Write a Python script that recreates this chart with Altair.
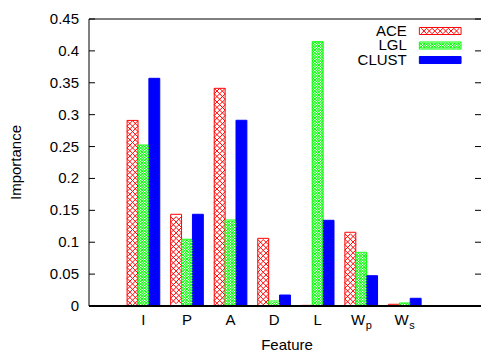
import altair as alt
import pandas as pd

# ---- data ----
feature_main = ["I", "P", "A", "D", "L", "W", "W"]
feature_sub = ["", "", "", "", "", "p", "s"]
series_names = ["ACE", "LGL", "CLUST"]
ace_values = [0.291, 0.1438, 0.3413, 0.1061, 0.001, 0.1156, 0.0027]
lgl_values = [0.2524, 0.1046, 0.1348, 0.0078, 0.4144, 0.0842, 0.0047]
clust_values = [0.357, 0.1438, 0.2912, 0.0172, 0.1344, 0.0475, 0.0121]
y_tick_values = [0, 0.05, 0.1, 0.15, 0.2, 0.25, 0.3, 0.35, 0.4, 0.45]
x_title = "Feature"
y_title = "Importance"

# ---- styling ----
FONT = "Liberation Sans"
fill_colors = ["#ffffff", "#ffffff", "#0000ff"]
line_colors = ["#ff0000", "#00ff00", "#0000ff"]
W, H = 392, 287
X_DOM = [-1.25, 7.75]
Y_DOM = [0, 0.45]
PX_X = W / (X_DOM[1] - X_DOM[0])      # px per x unit
PX_Y = H / (Y_DOM[1] - Y_DOM[0])      # px per y unit
PAT = 5.44                            # hatch period in px for ACE
SX = PAT / PX_X
SY = PAT / PX_Y

rows = []
for i in range(len(feature_main)):
    for k, vals in enumerate([ace_values, lgl_values, clust_values]):
        rows.append({"idx": i, "series": series_names[k], "k": k, "value": vals[i]})
bars_df = pd.DataFrame(rows)
legend_df = pd.DataFrame({"series": series_names, "k": [0, 1, 2]})
labels_df = pd.DataFrame({"idx": list(range(len(feature_main))), "main": feature_main, "sub": feature_sub})
ticks_df = pd.DataFrame({"t": y_tick_values})
titles_df = pd.DataFrame({"x_title": [x_title], "y_title": [y_title]})

xscale = alt.Scale(domain=X_DOM, nice=False, zero=False)
yscale = alt.Scale(domain=Y_DOM, nice=False, zero=False)


def rect_layer(base):
    return base.mark_rect(strokeWidth=1).encode(
        x=alt.X("x1:Q", scale=xscale, axis=None),
        x2="x2:Q",
        y=alt.Y("y2:Q", scale=yscale, axis=None),
        y2="y1:Q",
        fill=alt.Fill("series:N", scale=alt.Scale(domain=series_names, range=fill_colors), legend=None),
        stroke=alt.Stroke("series:N", scale=alt.Scale(domain=series_names, range=line_colors), legend=None),
    )


def pattern_layer(base):
    return base.transform_filter("datum.series != 'CLUST'").transform_calculate(
        m="datum.series == 'ACE' ? 1 : 0.5"
    ).transform_calculate(
        sx=f"{SX}*datum.m", sy=f"{SY}*datum.m", sz=f"pow({PAT}*datum.m, 2)"
    ).transform_calculate(
        nc="floor((datum.x2-datum.x1)/datum.sx + 1e-6)",
        nr="floor((datum.y2-datum.y1)/datum.sy + 1e-6)",
    ).transform_calculate(
        cols="sequence(0, datum.nc)", rws="sequence(0, datum.nr)"
    ).transform_flatten(["cols"]).transform_flatten(["rws"]).transform_calculate(
        px="datum.x1 + ((datum.x2-datum.x1) - datum.nc*datum.sx)/2 + (datum.cols+0.5)*datum.sx",
        py="datum.y1 + ((datum.y2-datum.y1) - datum.nr*datum.sy)/2 + (datum.rws+0.5)*datum.sy",
    ).mark_point(shape="M-1,-1L1,1M-1,1L1,-1", filled=False, strokeWidth=1, opacity=1).encode(
        x=alt.X("px:Q", scale=xscale, axis=None),
        y=alt.Y("py:Q", scale=yscale, axis=None),
        size=alt.Size("sz:Q", scale=None),
        color=alt.Color("series:N", scale=alt.Scale(domain=series_names, range=line_colors), legend=None),
    )


ticks = alt.Chart(ticks_df)

bars_base = alt.Chart(bars_df).transform_calculate(
    x1="datum.idx + (datum.k - 1)*0.25 - 0.125"
).transform_calculate(x2="datum.x1 + 0.25", y1="0", y2="datum.value")

# legend placed in data units (top right)
LEG_TX, LEG_X1, LEG_X2, LEG_Y0, LEG_DY, LEG_HH = 6.045, 6.335, 7.292, 0.4312, 0.02275, 0.0055
legend_base = alt.Chart(legend_df).transform_calculate(
    yc=f"{LEG_Y0} - datum.k*{LEG_DY}"
).transform_calculate(
    x1=f"{LEG_X1}", x2=f"{LEG_X2}", y1=f"datum.yc - {LEG_HH}", y2=f"datum.yc + {LEG_HH}"
)

legend_text = legend_base.mark_text(align="right", baseline="middle", fontSize=15, font=FONT,
                                    color="black").encode(
    x=alt.datum(LEG_TX, scale=xscale, axis=None), y=alt.Y("yc:Q", scale=yscale, axis=None),
    text="series:N")

labels = alt.Chart(labels_df)
lab_plain = labels.transform_filter("datum.sub == ''").mark_text(
    align="center", baseline="alphabetic", dy=19, fontSize=15, font=FONT, color="black").encode(
    x=alt.X("idx:Q", scale=xscale, axis=None), y=alt.datum(0, scale=yscale, axis=None), text="main:N")
lab_w = labels.transform_filter("datum.sub != ''").mark_text(
    align="right", baseline="alphabetic", dx=4, dy=19, fontSize=15, font=FONT, color="black").encode(
    x=alt.X("idx:Q", scale=xscale, axis=None), y=alt.datum(0, scale=yscale, axis=None), text="main:N")
lab_sub = labels.transform_filter("datum.sub != ''").mark_text(
    align="left", baseline="alphabetic", dx=4.5, dy=23, fontSize=11, font=FONT, color="black").encode(
    x=alt.X("idx:Q", scale=xscale, axis=None), y=alt.datum(0, scale=yscale, axis=None), text="sub:N")

# y axis: inward ticks on both sides, labels, frame lines
tick_left = ticks.mark_rule(color="black", strokeWidth=1).encode(
    x=alt.value(0), x2=alt.value(6), y=alt.Y("t:Q", scale=yscale, axis=None))
tick_right = ticks.mark_rule(color="black", strokeWidth=1).encode(
    x=alt.value(W - 6), x2=alt.value(W), y=alt.Y("t:Q", scale=yscale, axis=None))
tick_labels = ticks.transform_calculate(lab="format(datum.t, '~g')").mark_text(
    align="right", baseline="middle", fontSize=15, font=FONT, color="black", dx=-10).encode(
    x=alt.value(0), y=alt.Y("t:Q", scale=yscale, axis=None), text="lab:N")
top_border = ticks.transform_filter("datum.t == 0.45").mark_rule(color="black", strokeWidth=1).encode(
    y=alt.Y("t:Q", scale=yscale, axis=None))
left_border = ticks.transform_filter("datum.t == 0.45").mark_rule(color="black", strokeWidth=1).encode(
    x=alt.value(0), y=alt.Y("t:Q", scale=yscale, axis=None), y2=alt.datum(0))
bottom_border = ticks.transform_filter("datum.t == 0").mark_rule(color="black", strokeWidth=2).encode(
    y=alt.Y("t:Q", scale=yscale, axis=None))

titles = alt.Chart(titles_df)
x_title_mark = titles.mark_text(align="center", baseline="alphabetic", fontSize=15, font=FONT,
                                color="black").encode(
    x=alt.value(W / 2 + 2), y=alt.value(H + 43.5), text="x_title:N")
y_title_mark = titles.mark_text(align="center", baseline="middle", fontSize=15, font=FONT,
                                color="black", angle=270).encode(
    x=alt.value(-73), y=alt.value(H / 2), text="y_title:N")

chart = alt.layer(
    rect_layer(bars_base),
    pattern_layer(bars_base),
    rect_layer(legend_base),
    pattern_layer(legend_base),
    legend_text,
    lab_plain, lab_w, lab_sub,
    tick_left, tick_right, tick_labels,
    top_border, left_border, bottom_border,
    x_title_mark, y_title_mark,
).properties(
    width=W, height=H,
    autosize=alt.AutoSizeParams(type="none"),
    padding={"left": 89, "top": 19, "right": 0, "bottom": 46},
    background="white",
).configure_view(stroke=None)

chart.save("out.html", embed_options={"renderer": "svg", "actions": False})
